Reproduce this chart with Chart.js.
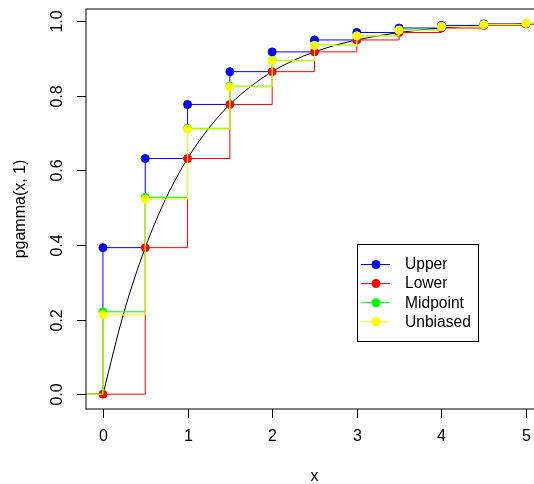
<!DOCTYPE html>
<html>
<head>
<meta charset="utf-8">
<script src="https://cdn.jsdelivr.net/npm/chart.js@4/dist/chart.umd.min.js"></script>
<style>
html,body{margin:0;padding:0;background:#fff;overflow:hidden;width:534px;height:484px;}
canvas{display:block;}
</style>
</head>
<body>
<canvas id="c" width="560" height="484"></canvas>
<script>
// ---- data ----
const stepX    = [0, 0.5, 1, 1.5, 2, 2.5, 3, 3.5, 4, 4.5, 5];
const upper    = [0.393, 0.632, 0.777, 0.865, 0.918, 0.950, 0.970, 0.982, 0.989, 0.993];
const lower    = [0.000, 0.393, 0.632, 0.777, 0.865, 0.918, 0.950, 0.970, 0.982, 0.989, 0.993];
const midpoint = [0.221, 0.528, 0.713, 0.826, 0.895, 0.936, 0.961, 0.977, 0.986, 0.991, 0.995];
const unbiased = [0.213, 0.523, 0.711, 0.824, 0.894, 0.935, 0.961, 0.976, 0.986, 0.991, 0.995];
const padLeftX = -0.5, padLeftY = 0;     // step lines start at 0 left of the first point
const padRightX = 5.5;                     // step lines continue to the right edge

const curveX = [0,0.25,0.5,0.75,1,1.25,1.5,1.75,2,2.25,2.5,2.75,3,3.25,3.5,3.75,4,4.25,4.5,4.75,5];
const curveY = [0,0.221,0.393,0.528,0.632,0.713,0.777,0.826,0.865,0.895,0.918,0.936,0.950,0.961,0.970,0.977,0.982,0.986,0.989,0.991,0.993];

const xTicks = [0, 1, 2, 3, 4, 5];
const xTickLabels = ["0", "1", "2", "3", "4", "5"];
const yTicks = [0, 0.2, 0.4, 0.6, 0.8, 1.0];
const yTickLabels = ["0.0", "0.2", "0.4", "0.6", "0.8", "1.0"];
const xTitle = "x";
const yTitle = "pgamma(x, 1)";

const seriesNames  = ["Upper", "Lower", "Midpoint", "Unbiased"];
const seriesValues = [upper, lower, midpoint, unbiased];
const seriesColors = ["#0000FF", "#FF0000", "#00FF00", "#FFFF00"];

const FONT = '"Liberation Sans", Arial, Helvetica, sans-serif';

function stepData(vals) {
  const pts = [{x: padLeftX, y: padLeftY, pad: true}];
  vals.forEach((v, i) => pts.push({x: stepX[i], y: v}));
  pts.push({x: padRightX, y: vals[vals.length - 1], pad: true});
  return pts;
}

const datasets = [{
  label: "curve",
  data: curveX.map((x, i) => ({x, y: curveY[i]})),
  borderColor: "#000",
  borderWidth: 1,
  pointRadius: 0,
  cubicInterpolationMode: "monotone",
  order: 10
}];
seriesNames.forEach((name, k) => {
  datasets.push({
    label: name,
    data: stepData(seriesValues[k]),
    borderColor: seriesColors[k],
    backgroundColor: seriesColors[k],
    pointBackgroundColor: seriesColors[k],
    pointBorderColor: seriesColors[k],
    borderWidth: 1,
    stepped: "before",
    pointRadius: c => (c.raw && c.raw.pad) ? 0 : 4,
    pointBorderWidth: 1,
    order: 4 - k
  });
});

const rAxes = {
  id: "rAxes",
  afterDatasetsDraw(chart) {
    const {ctx, chartArea: a, scales: {x, y}} = chart;
    ctx.save();
    ctx.strokeStyle = "#000";
    ctx.lineWidth = 1;
    // box
    ctx.strokeRect(a.left, a.top, a.right - a.left, a.bottom - a.top);
    // x axis ticks
    ctx.fillStyle = "#000";
    ctx.font = "16px " + FONT;
    ctx.textAlign = "center";
    ctx.textBaseline = "middle";
    xTicks.forEach((t, i) => {
      const px = Math.round(x.getPixelForValue(t)) + 0.5;
      ctx.beginPath();
      ctx.moveTo(px, a.bottom);
      ctx.lineTo(px, a.bottom + 9);
      ctx.stroke();
      ctx.fillText(xTickLabels[i], px, 437);
    });
    // y axis ticks
    yTicks.forEach((t, i) => {
      const py = Math.round(y.getPixelForValue(t)) + 0.5;
      ctx.beginPath();
      ctx.moveTo(a.left - 9, py);
      ctx.lineTo(a.left, py);
      ctx.stroke();
      ctx.save();
      ctx.translate(57.5, py);
      ctx.rotate(-Math.PI / 2);
      ctx.fillText(yTickLabels[i], 0, 0);
      ctx.restore();
    });
    // titles
    ctx.fillText(xTitle, (a.left + a.right) / 2, 477);
    ctx.save();
    ctx.translate(21, (a.top + a.bottom) / 2);
    ctx.rotate(-Math.PI / 2);
    ctx.fillText(yTitle, 0, 0);
    ctx.restore();

    // legend
    const L = 357, T = 244, R = 478, B = 341;
    ctx.fillStyle = "#fff";
    ctx.fillRect(L, T, R - L, B - T);
    ctx.strokeStyle = "#000";
    ctx.strokeRect(L + 0.5, T + 0.5, R - L, B - T);
    ctx.font = "15.6px " + FONT;
    ctx.textAlign = "left";
    seriesNames.forEach((name, k) => {
      const yy = 264.5 + k * 19.1;
      ctx.strokeStyle = seriesColors[k];
      ctx.beginPath();
      ctx.moveTo(361, yy);
      ctx.lineTo(390, yy);
      ctx.stroke();
      ctx.fillStyle = seriesColors[k];
      ctx.beginPath();
      ctx.arc(376, yy, 4.5, 0, Math.PI * 2);
      ctx.fill();
      ctx.fillStyle = "#000";
      ctx.fillText(name, 405, yy + 0.5);
    });
    ctx.restore();
  }
};

new Chart(document.getElementById("c"), {
  type: "line",
  data: {datasets},
  options: {
    responsive: false,
    animation: false,
    devicePixelRatio: 1,
    layout: {padding: {left: 86, top: 9, right: 17, bottom: 75}},
    plugins: {legend: {display: false}, tooltip: {enabled: false}},
    scales: {
      x: {type: "linear", min: -0.2, max: 5.2, display: false},
      y: {type: "linear", min: -0.0397, max: 1.033, display: false}
    }
  },
  plugins: [rAxes]
});
</script>
</body>
</html>
